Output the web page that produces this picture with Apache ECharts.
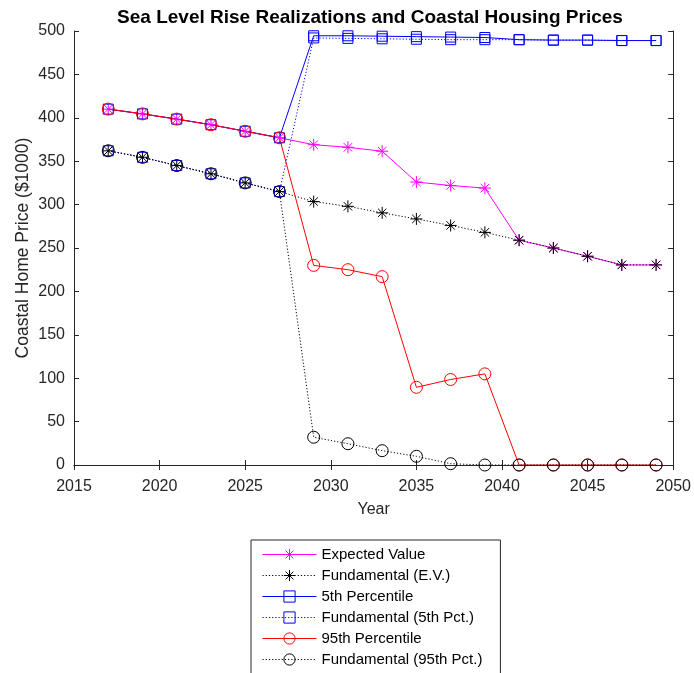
<!DOCTYPE html>
<html>
<head>
<meta charset="utf-8">
<script src="https://cdn.jsdelivr.net/npm/echarts@6/dist/echarts.min.js"></script>
<style>
  html, body { margin: 0; padding: 0; background: #fff; }
  #chart { width: 694px; height: 673px; }
</style>
</head>
<body>
<div id="chart"></div>
<script>
// Simulation years (every two years)
const years = [2017, 2019, 2021, 2023, 2025, 2027, 2029, 2031, 2033, 2035, 2037, 2039, 2041, 2043, 2045, 2047, 2049];

// Coastal home prices, $1000
const expectedValue   = [410, 404.5, 398.5, 392, 384.5, 377, 369, 366, 361.5, 326, 322, 319, 259, 250, 240.5, 230.5, 230.5];
const fundamentalEV   = [362, 354.5, 345, 335.5, 325, 315, 303.5, 298, 290.5, 283.5, 276, 268, 259, 250, 240.5, 230.5, 230.5];
const pct5            = [410, 404.5, 398.5, 392, 384.5, 377, 494.5, 494.5, 494, 493.5, 493, 492.5, 490, 489.5, 489.5, 489, 489];
const fundamental5    = [362, 354.5, 345, 335.5, 325, 315, 492, 491.5, 491, 490.5, 490, 490, 490, 489.5, 489.5, 489, 489];
const pct95           = [410, 404.5, 398.5, 392, 384.5, 377, 230, 225, 217, 89.5, 98.5, 105, 0, 0, 0, 0, 0];
const fundamental95   = [362, 354.5, 345, 335.5, 325, 315, 32, 24.5, 16.5, 10, 1.5, 0, 0, 0, 0, 0, 0];

const seriesNames = [
  'Expected Value',
  'Fundamental (E.V.)',
  '5th Percentile',
  'Fundamental (5th Pct.)',
  '95th Percentile',
  'Fundamental (95th Pct.)'
];

const xTicks = { min: 2015, max: 2050, interval: 5 };
const yTicks = { min: 0, max: 500, interval: 50 };

const pair = arr => years.map((y, i) => [y, arr[i]]);

// stroke-only asterisk marker (plus + cross)
const ASTERISK = 'path://M0,5L10,5M5,0L5,10M1.5,1.5L8.5,8.5M8.5,1.5L1.5,8.5';
const DOT = [1.2, 2];
const AXIS_COLOR = '#262626';
const FONT = 'Liberation Sans, Arial, Helvetica, sans-serif';

function makeSeries(name, data, color, dashed, symbol, size) {
  return {
    name: name,
    type: 'line',
    data: pair(data),
    xAxisIndex: 0,
    yAxisIndex: 0,
    symbol: symbol,
    symbolSize: size,
    showSymbol: true,
    lineStyle: { color: color, width: 1, type: dashed ? DOT : 'solid' },
    itemStyle: { color: 'rgba(0,0,0,0)', borderColor: color, borderWidth: 1 },
    emphasis: { disabled: true },
    silent: true
  };
}

const chart = echarts.init(document.getElementById('chart'), null, { renderer: 'canvas' });

const baseAxis = {
  axisLine: { show: true, lineStyle: { color: AXIS_COLOR, width: 1 } },
  axisTick: { show: true, inside: true, length: 5, lineStyle: { color: AXIS_COLOR } },
  splitLine: { show: false }
};

chart.setOption({
  animation: false,
  backgroundColor: '#fff',
  title: {
    text: 'Sea Level Rise Realizations and Coastal Housing Prices',
    left: 365,
    textAlign: 'center',
    top: 3,
    textStyle: { fontFamily: FONT, fontSize: 19, fontWeight: 'bold', color: '#000' }
  },
  grid: { left: 74, right: 18, top: 31, bottom: 208, containLabel: false },
  xAxis: [
    Object.assign({}, baseAxis, {
      type: 'value', position: 'bottom',
      min: xTicks.min, max: xTicks.max, interval: xTicks.interval,
      name: 'Year', nameLocation: 'middle', nameGap: 37,
      nameTextStyle: { fontFamily: FONT, fontSize: 16, color: AXIS_COLOR },
      axisLabel: { fontFamily: FONT, fontSize: 16, color: AXIS_COLOR, margin: 14, formatter: v => String(v) }
    }),
    Object.assign({}, baseAxis, {
      type: 'value', position: 'top',
      min: xTicks.min, max: xTicks.max, interval: xTicks.interval,
      axisLabel: { show: false }
    })
  ],
  yAxis: [
    Object.assign({}, baseAxis, {
      type: 'value', position: 'left',
      min: yTicks.min, max: yTicks.max, interval: yTicks.interval,
      name: 'Coastal Home Price ($1000)', nameLocation: 'middle', nameGap: 42,
      nameMoveOverlap: false,
      nameTextStyle: { fontFamily: FONT, fontSize: 17.5, color: AXIS_COLOR },
      axisLabel: { fontFamily: FONT, fontSize: 16, color: AXIS_COLOR, margin: 9, formatter: v => String(v) }
    }),
    Object.assign({}, baseAxis, {
      type: 'value', position: 'right',
      min: yTicks.min, max: yTicks.max, interval: yTicks.interval,
      axisLabel: { show: false }
    })
  ],
  legend: {
    orient: 'vertical',
    left: 251,
    top: 540,
    height: 160,
    padding: [7, 18, 8, 11],
    itemWidth: 54,
    itemHeight: 14,
    itemGap: 6,
    backgroundColor: '#fff',
    borderColor: AXIS_COLOR,
    borderWidth: 1,
    borderRadius: 0,
    selectedMode: false,
    lineStyle: { width: 1 },
    itemStyle: { borderWidth: 1 },
    textStyle: { fontFamily: FONT, fontSize: 15, color: '#000' },
    data: seriesNames
  },
  series: [
    makeSeries(seriesNames[0], expectedValue, '#ff00ff', false, ASTERISK, 12),
    makeSeries(seriesNames[1], fundamentalEV, '#000000', true, ASTERISK, 12),
    makeSeries(seriesNames[2], pct5, '#0000ff', false, 'rect', 10),
    makeSeries(seriesNames[3], fundamental5, '#0000ff', true, 'rect', 10),
    makeSeries(seriesNames[4], pct95, '#ff0000', false, 'circle', 12),
    makeSeries(seriesNames[5], fundamental95, '#000000', true, 'circle', 12)
  ]
});
</script>
</body>
</html>
